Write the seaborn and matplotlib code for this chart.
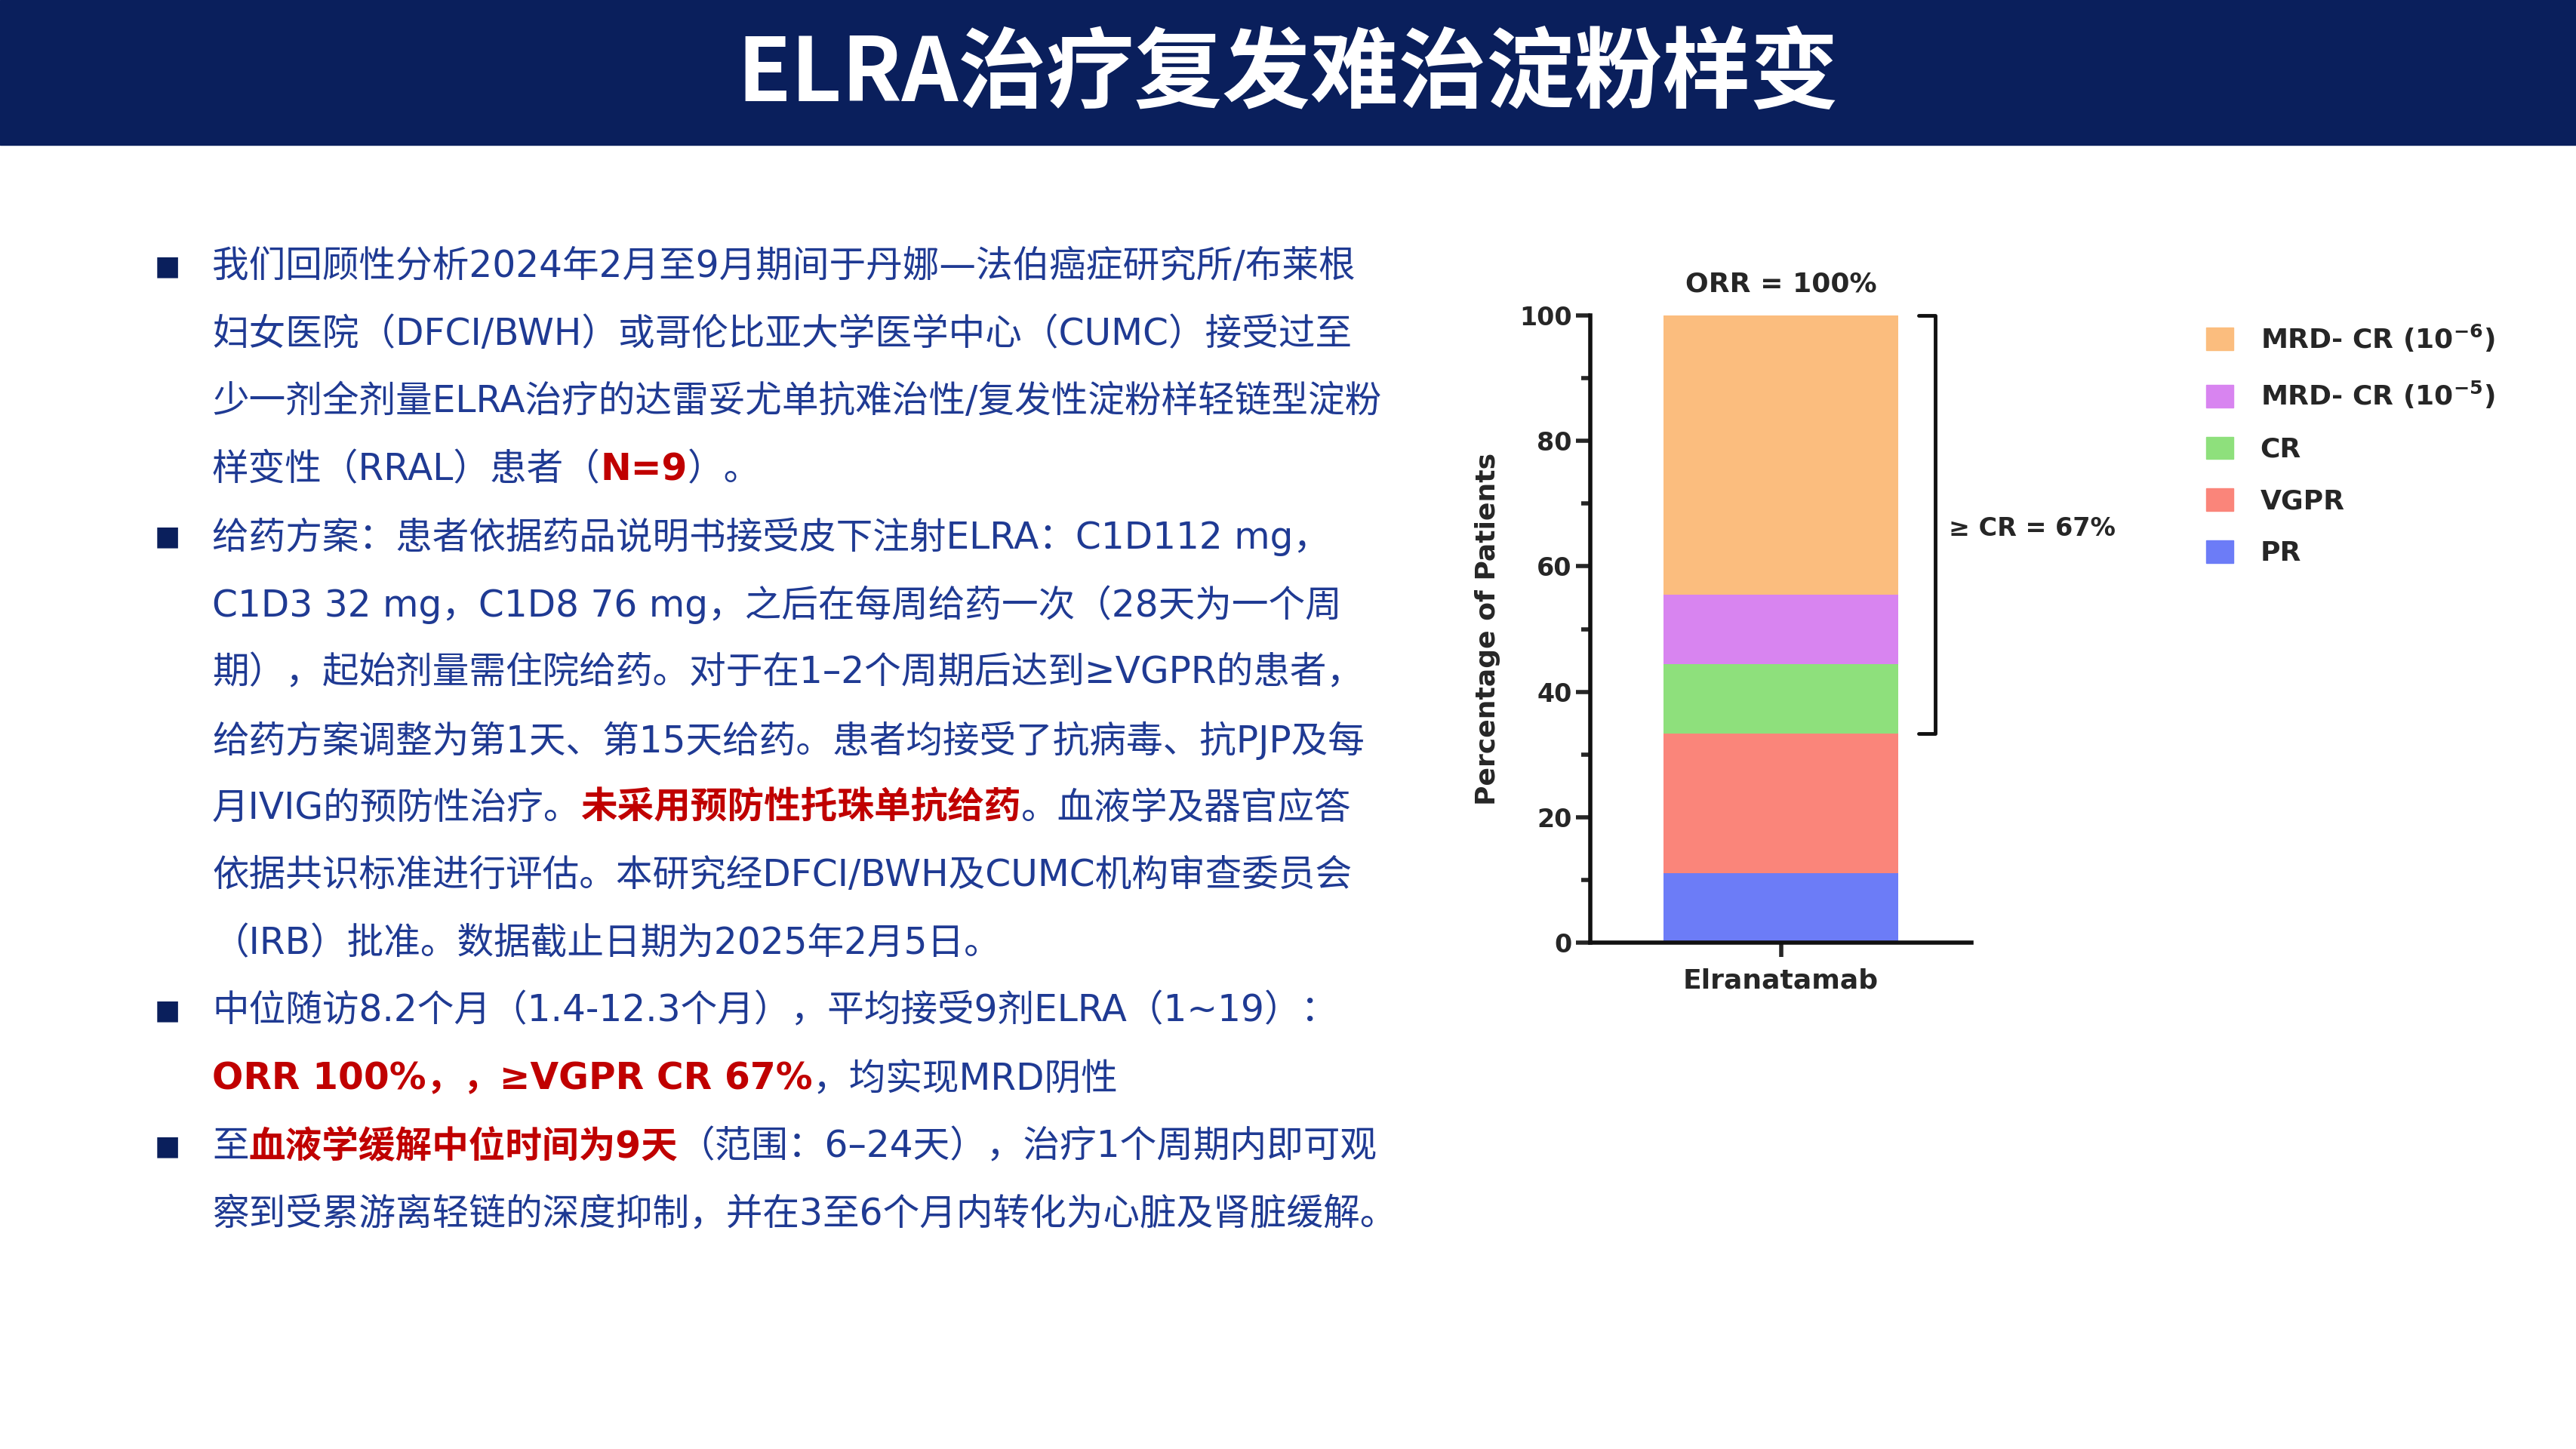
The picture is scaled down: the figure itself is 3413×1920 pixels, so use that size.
import numpy as np
import pandas as pd
import matplotlib
matplotlib.use('Agg')
import matplotlib.pyplot as plt
import seaborn as sns

sns.set_style('white')
plt.rcParams['font.family'] = ['DejaVu Sans', 'Noto Sans CJK SC']

# chart data (percent of patients, N=9)
categories = ['PR', 'VGPR', 'CR', 'MRD- CR (10$^{\\mathbf{-5}}$)', 'MRD- CR (10$^{\\mathbf{-6}}$)']
values = [11.1, 22.2, 11.1, 11.1, 44.5]
colors = ['#6c7cf7', '#fa857a', '#8ee07c', '#d884f0', '#fbbd7e']
group = 'Elranatamab'

NAVY = '#0a1f5c'
RED = '#c00000'
W, H = 3413, 1920
fig = plt.figure(figsize=(W / 100, H / 100), dpi=100)

# header band
fig.patches.append(plt.Rectangle((0, 1 - 192 / H), 1, 192 / H, transform=fig.transFigure,
                                 color=NAVY, zorder=0))
fig.text(0.5, 1 - 100 / H, 'ELRA治疗复发难治淀粉样变', ha='center', va='center',
         color='white', fontsize=84, fontweight='bold',
         family=['Noto Sans CJK SC', 'DejaVu Sans'])

# body text: segments of (text, is_red)
lines = [
    (True, [('我们回顾性分析2024年2月至9月期间于丹娜—法伯癌症研究所/布莱根', 0)]),
    (False, [('妇女医院（DFCI/BWH）或哥伦比亚大学医学中心（CUMC）接受过至', 0)]),
    (False, [('少一剂全剂量ELRA治疗的达雷妥尤单抗难治性/复发性淀粉样轻链型淀粉', 0)]),
    (False, [('样变性（RRAL）患者（', 0), ('N=9', 1), ('）。', 0)]),
    (True, [('给药方案：患者依据药品说明书接受皮下注射ELRA：C1D112 mg，', 0)]),
    (False, [('C1D3 32 mg，C1D8 76 mg，之后在每周给药一次（28天为一个周', 0)]),
    (False, [('期），起始剂量需住院给药。对于在1–2个周期后达到≥VGPR的患者，', 0)]),
    (False, [('给药方案调整为第1天、第15天给药。患者均接受了抗病毒、抗PJP及每', 0)]),
    (False, [('月IVIG的预防性治疗。', 0), ('未采用预防性托珠单抗给药', 1), ('。血液学及器官应答', 0)]),
    (False, [('依据共识标准进行评估。本研究经DFCI/BWH及CUMC机构审查委员会', 0)]),
    (False, [('（IRB）批准。数据截止日期为2025年2月5日。', 0)]),
    (True, [('中位随访8.2个月（1.4-12.3个月），平均接受9剂ELRA（1~19）：', 0)]),
    (False, [('ORR 100%，，≥VGPR CR 67%', 1), ('，均实现MRD阴性', 0)]),
    (True, [('至', 0), ('血液学缓解中位时间为9天', 1), ('（范围：6–24天），治疗1个周期内即可观', 0)]),
    (False, [('察到受累游离轻链的深度抑制，并在3至6个月内转化为心脏及肾脏缓解。', 0)]),
]
renderer = fig.canvas.get_renderer()
y0, step = 353, 89.7
for i, (bullet, segs) in enumerate(lines):
    y = 1 - (y0 + i * step) / H
    if bullet:
        fig.text(205 / W, y, '■', color=NAVY, fontsize=26, va='center')
    x = 281 / W
    for s, red in segs:
        t = fig.text(x, y, s, va='center', fontsize=35,
                     color=RED if red else '#1f3a93',
                     fontweight='bold' if red else 'normal')
        bb = t.get_window_extent(renderer)
        x += bb.width / W

# stacked bar chart
ax = fig.add_axes([2107 / W, 1 - 1249 / H, 505 / W, (1249 - 418) / H])
cum = np.cumsum(values)
for c, col in zip(cum[::-1], colors[::-1]):
    sns.barplot(x=[group], y=[c], color=col, width=1, ax=ax, saturation=1, linewidth=0)
ax.set_xlim(-0.81, 0.81)
ax.set_ylim(0, 100)
ax.set_yticks(np.arange(0, 101, 20))
ax.set_yticks(np.arange(0, 101, 10), minor=True)
for s in ['top', 'right']:
    ax.spines[s].set_visible(False)
for s in ['left', 'bottom']:
    ax.spines[s].set_linewidth(4)
    ax.spines[s].set_color('#111111')
ax.tick_params(axis='y', which='major', length=14, width=4, labelsize=24, left=True)
ax.tick_params(axis='y', which='minor', length=9, width=4, left=True)
ax.tick_params(axis='x', length=14, width=4, labelsize=26, bottom=True, pad=10)
for lab in ax.get_yticklabels() + ax.get_xticklabels():
    lab.set_fontweight('bold')
ax.set_ylabel('Percentage of Patients', fontsize=26, fontweight='bold', labelpad=18)
ax.set_xlabel('')
ax.text(0, 103, 'ORR = 100%', ha='center', va='bottom', fontsize=26, fontweight='bold',
        clip_on=False)

# bracket for >= CR
ax.plot([0.585, 0.656, 0.656, 0.585], [100, 100, cum[1], cum[1]], color='#111111',
        lw=3.5, clip_on=False)
ax.text(0.714, 66, '≥ CR = 67%', ha='left', va='center', fontsize=24, fontweight='bold',
        clip_on=False)

# legend
handles = [plt.Rectangle((0, 0), 1, 1, color=c) for c in colors[::-1]]
leg = fig.legend(handles, categories[::-1], loc='upper left',
                 bbox_to_anchor=(2890 / W, 1 - 395 / H), frameon=False,
                 prop={'size': 26, 'weight': 'bold'}, handlelength=1.0, handleheight=0.9,
                 labelspacing=0.95, handletextpad=1.0)

fig.savefig('out.png', dpi=100)
